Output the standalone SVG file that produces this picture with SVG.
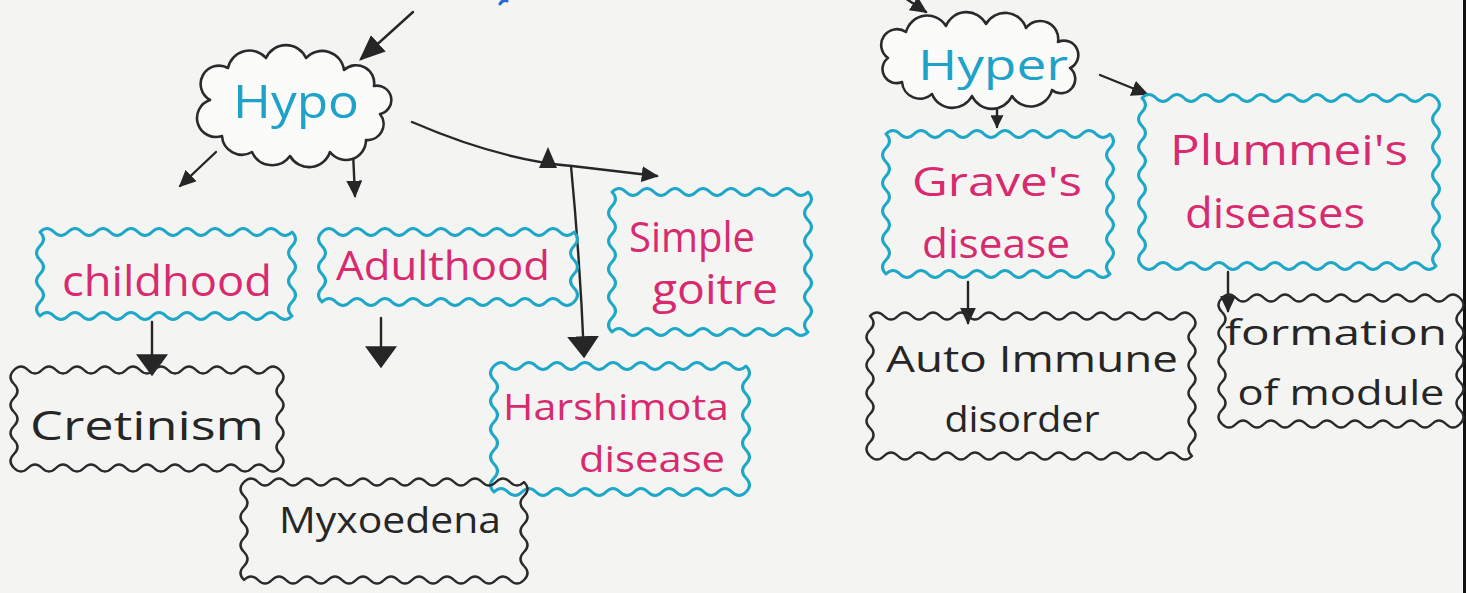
<svg xmlns="http://www.w3.org/2000/svg" width="1466" height="593" viewBox="0 0 1466 593">
  <defs>
    <style>
      .cloud { fill: #fbfbfa; stroke: #2a2a2a; stroke-width: 2.6; stroke-linejoin: round; }
      .cyan { fill: none; stroke: #1ea7c7; stroke-width: 3; stroke-linejoin: round; stroke-linecap: round; }
      .ink { fill: none; stroke: #2a2a2a; stroke-width: 2.4; stroke-linejoin: round; stroke-linecap: round; }
      .wire { fill: none; stroke: #262626; stroke-width: 2.4; stroke-linecap: round; }
      text { font-family: "Open Sans", "Liberation Sans", sans-serif; text-anchor: middle; }
      .t-blue { fill: #1ea2c8; }
      .t-pink { fill: #d82a6e; }
      .t-black { fill: #262626; }
    </style>
    <marker id="headS" viewBox="0 0 10 10" refX="9" refY="5" markerUnits="userSpaceOnUse" markerWidth="13" markerHeight="13" orient="auto">
      <path d="M0 0 L10 5 L0 10 z" fill="#262626"/>
    </marker>
    <marker id="headM" viewBox="0 0 10 10" refX="9" refY="5" markerUnits="userSpaceOnUse" markerWidth="17" markerHeight="16" orient="auto" preserveAspectRatio="none">
      <path d="M0 0 L10 5 L0 10 z" fill="#262626"/>
    </marker>
    <marker id="headL" viewBox="0 0 10 10" refX="9" refY="5" markerUnits="userSpaceOnUse" markerWidth="26" markerHeight="22" orient="auto" preserveAspectRatio="none">
      <path d="M0 0 L10 5 L0 10 z" fill="#262626"/>
    </marker>
    <marker id="headW" viewBox="0 0 10 10" refX="9" refY="5" markerUnits="userSpaceOnUse" markerWidth="22" markerHeight="32" orient="auto" preserveAspectRatio="none">
      <path d="M0 0 L10 5 L0 10 z" fill="#262626"/>
    </marker>
  </defs>

  <!-- paper -->
  <rect x="0" y="0" width="1466" height="593" fill="#f4f4f2"/>
  <rect x="1463" y="0" width="3" height="593" fill="#111"/>
  <path d="M500 4 q3 -5 7 -3" fill="none" stroke="#2a64d8" stroke-width="3" stroke-linecap="round"/>

  <!-- connectors -->
  <g id="connectors">
    <path class="wire" d="M413 12 L361 59" stroke-width="4" marker-end="url(#headL)"/>
    <path class="wire" d="M896 -8 L926 12" stroke-width="3" marker-end="url(#headM)"/>
    <path class="wire" d="M216 152 L180 186" marker-end="url(#headM)"/>
    <path class="wire" d="M353 152 L355 196" marker-end="url(#headM)"/>
    <path class="wire" d="M412 122 Q500 160 572 166 L657 176" marker-end="url(#headM)"/>
    <polygon points="548,147 539,168 557,168" fill="#262626"/>
    <path class="wire" d="M571 166 Q580 260 584 356" marker-end="url(#headW)"/>
    <path class="wire" d="M152 322 L152 374" marker-end="url(#headW)"/>
    <path class="wire" d="M381 318 L381 366" marker-end="url(#headW)"/>
    <path class="wire" d="M997 98 L997 127" marker-end="url(#headS)"/>
    <path class="wire" d="M1100 75 L1147 94" marker-end="url(#headM)"/>
    <path class="wire" d="M968 282 L968 323" marker-end="url(#headM)"/>
    <path class="wire" d="M1228 272 L1228 311" marker-end="url(#headM)"/>
  </g>

  <!-- Hypo -->
  <g id="hypo">
    <path class="cloud" d="M210 100 a16 16 0 0 1 18 -32 a22 22 0 0 1 38 -10 a22 22 0 0 1 40 0 a22 22 0 0 1 38 12 a18 18 0 0 1 30 16 a14 14 0 0 1 6 28 a16 16 0 0 1 -14 26 a20 20 0 0 1 -36 12 a22 22 0 0 1 -40 4 a22 22 0 0 1 -38 -4 a20 20 0 0 1 -30 -16 a18 18 0 0 1 -12 -36 z"/>
    <text class="t-blue" x="296" y="118" font-size="46" textLength="126" lengthAdjust="spacingAndGlyphs">Hypo</text>
  </g>

  <!-- Hyper -->
  <g id="hyper">
    <path class="cloud" d="M888 58 a14 14 0 0 1 18 -26 a22 22 0 0 1 40 -6 a22 22 0 0 1 40 -2 a22 22 0 0 1 40 4 a18 18 0 0 1 32 14 a14 14 0 0 1 12 26 a14 14 0 0 1 -18 22 a22 22 0 0 1 -40 6 a22 22 0 0 1 -40 0 a22 22 0 0 1 -40 -2 a18 18 0 0 1 -30 -12 a14 14 0 0 1 -14 -24 z"/>
    <text class="t-blue" x="993" y="80" font-size="42" textLength="150" lengthAdjust="spacingAndGlyphs">Hyper</text>
  </g>

  <!-- childhood -->
  <g id="childhood">
    <path class="cyan" d="M40 232q7 -7 14 0t14 0 14 0 14 0 14 0 14 0  14 0 14 0 14 0 14 0 14 0  14 0 14 0 14 0 14 0 14 0  14 0 14 0q7 7 0 14t0 14 0 14 0 14 0 14 0 14q-7 7 -14 0t-14 0 -14 0 -14 0 -14 0 -14 0  -14 0 -14 0 -14 0 -14 0 -14 0  -14 0 -14 0 -14 0 -14 0 -14 0  -14 0 -14 0q-7 -7 0 -14t0 -14 0 -14 0 -14 0 -14 0 -14z"/>
    <text class="t-pink" x="167" y="296" font-size="42" textLength="210" lengthAdjust="spacingAndGlyphs">childhood</text>
  </g>

  <!-- Adulthood -->
  <g id="adulthood">
    <path class="cyan" d="M322 232q7 -7 14 0t14 0 14 0 14 0 14 0 14 0  14 0 14 0 14 0 14 0 14 0  14 0 14 0 14 0 14 0 14 0  14 0 14 0q7 7 0 14t0 14 0 14 0 14 0 14q-7 7 -14 0t-14 0 -14 0 -14 0 -14 0 -14 0  -14 0 -14 0 -14 0 -14 0 -14 0  -14 0 -14 0 -14 0 -14 0 -14 0  -14 0 -14 0q-7 -7 0 -14t0 -14 0 -14 0 -14 0 -14z"/>
    <text class="t-pink" x="443" y="280" font-size="40" textLength="214" lengthAdjust="spacingAndGlyphs">Adulthood</text>
  </g>

  <!-- Simple goitre -->
  <g id="simple-goitre">
    <path class="cyan" d="M612 192q7 -7 14 0t14 0 14 0 14 0 14 0 14 0  14 0 14 0 14 0 14 0 14 0  14 0 14 0 14 0q7 7 0 14t0 14 0 14 0 14 0 14 0 14  0 14 0 14 0 14 0 14q-7 7 -14 0t-14 0 -14 0 -14 0 -14 0 -14 0  -14 0 -14 0 -14 0 -14 0 -14 0  -14 0 -14 0 -14 0q-7 -7 0 -14t0 -14 0 -14 0 -14 0 -14 0 -14  0 -14 0 -14 0 -14 0 -14z"/>
    <text class="t-pink" x="692" y="252" font-size="42" textLength="126" lengthAdjust="spacingAndGlyphs">Simple</text>
    <text class="t-pink" x="715" y="304" font-size="42" textLength="126" lengthAdjust="spacingAndGlyphs">goitre</text>
  </g>

  <!-- Harshimota disease -->
  <g id="harshimota">
    <path class="cyan" d="M494 366q7 -7 14 0t14 0 14 0 14 0 14 0 14 0  14 0 14 0 14 0 14 0 14 0  14 0 14 0 14 0 14 0 14 0  14 0 14 0q7 7 0 14t0 14 0 14 0 14 0 14 0 14  0 14 0 14 0 14q-7 7 -14 0t-14 0 -14 0 -14 0 -14 0 -14 0  -14 0 -14 0 -14 0 -14 0 -14 0  -14 0 -14 0 -14 0 -14 0 -14 0  -14 0 -14 0q-7 -7 0 -14t0 -14 0 -14 0 -14 0 -14 0 -14  0 -14 0 -14 0 -14z"/>
    <text class="t-pink" x="616" y="420" font-size="36" textLength="226" lengthAdjust="spacingAndGlyphs">Harshimota</text>
    <text class="t-pink" x="652" y="472" font-size="36" textLength="146" lengthAdjust="spacingAndGlyphs">disease</text>
  </g>

  <!-- Cretinism -->
  <g id="cretinism">
    <path class="ink" d="M14 370q7 -7 14 0t14 0 14 0 14 0 14 0 14 0  14 0 14 0 14 0 14 0 14 0  14 0 14 0 14 0 14 0 14 0  14 0 14 0 14 0q7 7 0 14t0 14 0 14 0 14 0 14 0 14  0 14q-7 7 -14 0t-14 0 -14 0 -14 0 -14 0 -14 0  -14 0 -14 0 -14 0 -14 0 -14 0  -14 0 -14 0 -14 0 -14 0 -14 0  -14 0 -14 0 -14 0q-7 -7 0 -14t0 -14 0 -14 0 -14 0 -14 0 -14  0 -14z"/>
    <text class="t-black" x="147" y="440" font-size="40" textLength="234" lengthAdjust="spacingAndGlyphs">Cretinism</text>
  </g>

  <!-- Myxoedema -->
  <g id="myxoedema">
    <path class="ink" d="M244 482q7 -7 14 0t14 0 14 0 14 0 14 0 14 0  14 0 14 0 14 0 14 0 14 0  14 0 14 0 14 0 14 0 14 0  14 0 14 0 14 0 14 0q7 7 0 14t0 14 0 14 0 14 0 14 0 14  0 14q-7 7 -14 0t-14 0 -14 0 -14 0 -14 0 -14 0  -14 0 -14 0 -14 0 -14 0 -14 0  -14 0 -14 0 -14 0 -14 0 -14 0  -14 0 -14 0 -14 0 -14 0q-7 -7 0 -14t0 -14 0 -14 0 -14 0 -14 0 -14  0 -14z"/>
    <text class="t-black" x="390" y="533" font-size="36" textLength="222" lengthAdjust="spacingAndGlyphs">Myxoedena</text>
  </g>

  <!-- Grave's disease -->
  <g id="graves">
    <path class="cyan" d="M886 134q7 -7 14 0t14 0 14 0 14 0 14 0 14 0  14 0 14 0 14 0 14 0 14 0  14 0 14 0 14 0 14 0 14 0q7 7 0 14t0 14 0 14 0 14 0 14 0 14  0 14 0 14 0 14 0 14q-7 7 -14 0t-14 0 -14 0 -14 0 -14 0 -14 0  -14 0 -14 0 -14 0 -14 0 -14 0  -14 0 -14 0 -14 0 -14 0 -14 0q-7 -7 0 -14t0 -14 0 -14 0 -14 0 -14 0 -14  0 -14 0 -14 0 -14 0 -14z"/>
    <text class="t-pink" x="997" y="196" font-size="40" textLength="170" lengthAdjust="spacingAndGlyphs">Grave's</text>
    <text class="t-pink" x="996" y="258" font-size="40" textLength="148" lengthAdjust="spacingAndGlyphs">disease</text>
  </g>

  <!-- Plummer's diseases -->
  <g id="plummers">
    <path class="cyan" d="M1142 98q7 -7 14 0t14 0 14 0 14 0 14 0 14 0  14 0 14 0 14 0 14 0 14 0  14 0 14 0 14 0 14 0 14 0  14 0 14 0 14 0 14 0 14 0q7 7 0 14t0 14 0 14 0 14 0 14 0 14  0 14 0 14 0 14 0 14 0 14  0 14q-7 7 -14 0t-14 0 -14 0 -14 0 -14 0 -14 0  -14 0 -14 0 -14 0 -14 0 -14 0  -14 0 -14 0 -14 0 -14 0 -14 0  -14 0 -14 0 -14 0 -14 0 -14 0q-7 -7 0 -14t0 -14 0 -14 0 -14 0 -14 0 -14  0 -14 0 -14 0 -14 0 -14 0 -14  0 -14z"/>
    <text class="t-pink" x="1289" y="165" font-size="42" textLength="238" lengthAdjust="spacingAndGlyphs">Plummei's</text>
    <text class="t-pink" x="1275" y="228" font-size="42" textLength="180" lengthAdjust="spacingAndGlyphs">diseases</text>
  </g>

  <!-- Auto Immune disorder -->
  <g id="auto-immune">
    <path class="ink" d="M870 316q7 -7 14 0t14 0 14 0 14 0 14 0 14 0  14 0 14 0 14 0 14 0 14 0  14 0 14 0 14 0 14 0 14 0  14 0 14 0 14 0 14 0 14 0  14 0 14 0q7 7 0 14t0 14 0 14 0 14 0 14 0 14  0 14 0 14 0 14 0 14q-7 7 -14 0t-14 0 -14 0 -14 0 -14 0 -14 0  -14 0 -14 0 -14 0 -14 0 -14 0  -14 0 -14 0 -14 0 -14 0 -14 0  -14 0 -14 0 -14 0 -14 0 -14 0  -14 0 -14 0q-7 -7 0 -14t0 -14 0 -14 0 -14 0 -14 0 -14  0 -14 0 -14 0 -14 0 -14z"/>
    <text class="t-black" x="1032" y="372" font-size="36" textLength="292" lengthAdjust="spacingAndGlyphs">Auto Immune</text>
    <text class="t-black" x="1022" y="432" font-size="36" textLength="155" lengthAdjust="spacingAndGlyphs">disorder</text>
  </g>

  <!-- formation of module -->
  <g id="formation">
    <path class="ink" d="M1222 298q7 -7 14 0t14 0 14 0 14 0 14 0 14 0  14 0 14 0 14 0 14 0 14 0  14 0 14 0 14 0 14 0 14 0  14 0q7 7 0 14t0 14 0 14 0 14 0 14 0 14  0 14 0 14 0 14q-7 7 -14 0t-14 0 -14 0 -14 0 -14 0 -14 0  -14 0 -14 0 -14 0 -14 0 -14 0  -14 0 -14 0 -14 0 -14 0 -14 0  -14 0q-7 -7 0 -14t0 -14 0 -14 0 -14 0 -14 0 -14  0 -14 0 -14 0 -14z"/>
    <text class="t-black" x="1336" y="345" font-size="34" textLength="222" lengthAdjust="spacingAndGlyphs">formation</text>
    <text class="t-black" x="1341" y="405" font-size="34" textLength="207" lengthAdjust="spacingAndGlyphs">of module</text>
  </g>
</svg>
